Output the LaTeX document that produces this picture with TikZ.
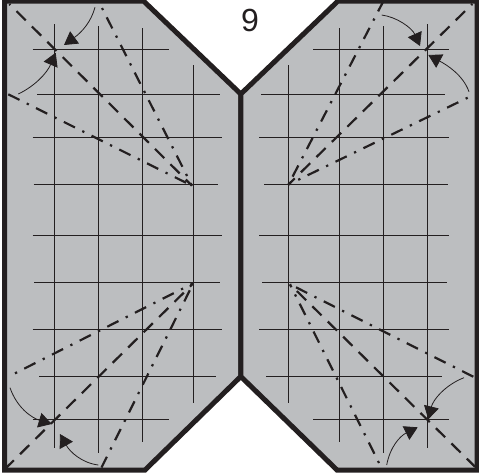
\documentclass[tikz,border=0pt]{standalone}
\usepackage{fontspec}
\setmainfont{Liberation Sans}
\usetikzlibrary{arrows.meta}
\definecolor{panelfill}{HTML}{BCBEC0}
\definecolor{ink}{HTML}{231F20}
\tikzset{
  panel/.style={draw=ink,fill=panelfill,line width=5pt,line join=miter},
  gridline/.style={draw=ink,line width=0.9pt},
  valley/.style={draw=ink,line width=2.2pt,dash pattern=on 13pt off 8.7pt},
  ridge/.style={draw=ink,line width=2.2pt,dash pattern=on 12.5pt off 8.1pt on 2.3pt off 8.1pt},
  foldarrow/.style={draw=ink,line width=0.8pt,-{Triangle[length=13pt,width=15pt]}}
}
\begin{document}
\begin{tikzpicture}[x=1pt,y=-1pt]
\useasboundingbox (0,0) rectangle (479,472);
% panels
\path[panel] (4.5,1) -- (143.5,1) -- (240.8,94) -- (240.8,376.5) -- (145,470) -- (4.5,470) -- cycle;
\path[panel] (338,1) -- (240.8,94) -- (240.8,376.5) -- (337,470) -- (477,470) -- (477,1) -- cycle;
% left grid
\foreach \vx/\ya/\yb in {54.7/24/448, 98/26/453, 142.7/28/442, 193.7/65/403}
  \draw[gridline] (\vx,\ya) -- (\vx,\yb);
\foreach \hy/\xa/\xb in {49.3/32.7/168.7, 94/37/220, 137/32.7/222, 184/33.5/218, 235/32.7/222, 282.3/34/220, 329/32.7/222, 376.3/39/216, 419.3/32.7/168.7}
  \draw[gridline] (\xa,\hy) -- (\xb,\hy);
% right grid
\foreach \vx/\ya/\yb in {288/65/403, 339/28/442, 383.7/26/453, 427/24/448}
  \draw[gridline] (\vx,\ya) -- (\vx,\yb);
\foreach \hy/\xa/\xb in {49.3/313/449, 94/261/445, 137/259/449, 184/264/448, 235/259/449, 282.3/262/447, 329/259/449, 376.3/266/442, 419.3/313/449}
  \draw[gridline] (\xa,\hy) -- (\xb,\hy);
% apexes
\coordinate (tl) at (192,185.7);
\coordinate (tr) at (288.5,184.5);
\coordinate (bl) at (193.3,283.3);
\coordinate (br) at (290,284.3);
% top left folds
\draw[valley,dash phase=11.5pt] (9.3,4) -- (tl);
\draw[ridge,dash phase=20.6pt] (102,8) -- (tl);
\draw[ridge] (8.3,94.3) -- (tl);
% top right folds
\draw[valley,dash phase=11.5pt] (472.3,4) -- (tr);
\draw[ridge,dash phase=2.5pt] (382.7,2.5) -- (tr);
\draw[ridge,dash phase=20.6pt] (467.7,97.7) -- (tr);
% bottom left folds
\draw[valley,dash phase=3pt] (6.7,467.3) -- (bl);
\draw[ridge,dash phase=20.6pt] (15,373.3) -- (bl);
\draw[ridge,dash phase=0.5pt] (101.5,467.5) -- (bl);
% bottom right folds
\draw[valley,dash phase=1.5pt] (475,466.7) -- (br);
\draw[ridge] (473.3,376.7) -- (br);
\draw[ridge,dash phase=20.6pt] (379,463) -- (br);
% arrows
\draw[foldarrow] (95,7.3) .. controls (91,22) and (82,32) .. (64,45);
\draw[foldarrow] (18.3,94) .. controls (35,86) and (47,73) .. (55.7,52.7);
\draw[foldarrow] (381.7,15) .. controls (397,17) and (412,28) .. (420,46);
\draw[foldarrow] (469,91.7) .. controls (463,75) and (447,65) .. (428.3,55);
\draw[foldarrow] (10,387.7) .. controls (17,408) and (32,418) .. (51.7,424);
\draw[foldarrow] (98.3,465) .. controls (82,463) and (70,452) .. (60,434);
\draw[foldarrow] (464,377.7) .. controls (445,385) and (433,400) .. (428.3,419.3);
\draw[foldarrow] (386.7,465) .. controls (390,447) and (400,436) .. (417.7,427.3);
% label
\node[text=ink,font=\fontsize{32pt}{32pt}\selectfont,inner sep=0pt] (stepnum) at (250,20.5) {9};
\end{tikzpicture}
\end{document}
